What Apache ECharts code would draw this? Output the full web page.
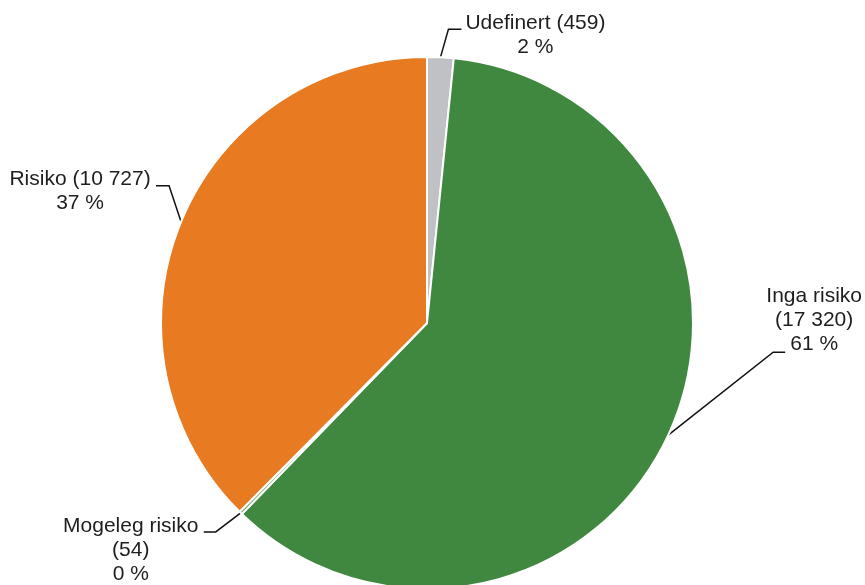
<!DOCTYPE html>
<html>
<head>
<meta charset="utf-8">
<script src="https://cdn.jsdelivr.net/npm/echarts@6/dist/echarts.min.js"></script>
<style>html,body{margin:0;padding:0;background:#fff}#c{width:865px;height:585px}</style>
</head>
<body>
<div id="c"></div>
<script>
// ---- data ----
const categories = ['Udefinert', 'Inga risiko', 'Mogeleg risiko', 'Risiko'];
const counts = [459, 17320, 54, 10727];
const percentLabels = [2, 61, 0, 37];
const valueOnOwnLine = [false, true, true, false];

// ---- style ----
const colors = ['#C0C1C4', '#408840', '#5C9C4C', '#E87A22'];
// label geometry relative to the slice edge anchor: [elbow, end of line, label centre]
const labelGeom = [
  [[8, -28], [21, -28], [95, -22]],
  [[105, -83], [117, -83], [146, -114.5]],
  [[-25, 19], [-37, 19], [-110, 37]],
  [[-12, -36], [-25, -36], [-101, -30.5]]
];

function fmtNum(n) {
  return String(n).replace(/\B(?=(\d{3})+(?!\d))/g, ' ');
}

const chart = echarts.init(document.getElementById('c'), null, {renderer: 'canvas'});
chart.setOption({
  animation: false,
  backgroundColor: '#fff',
  series: [{
    type: 'pie',
    center: [427, 323],
    radius: 266,
    startAngle: 90,
    clockwise: true,
    avoidLabelOverlap: false,
    data: categories.map((c, i) => ({
      name: c,
      value: counts[i],
      itemStyle: {color: colors[i]}
    })),
    itemStyle: {borderColor: '#fff', borderWidth: 2},
    label: {
      show: true,
      position: 'outside',
      color: '#1e1e1e',
      fontFamily: 'Liberation Sans, Arial, sans-serif',
      fontSize: 21,
      lineHeight: 24,
      align: 'center',
      formatter: p => {
        const i = p.dataIndex;
        const sep = valueOnOwnLine[i] ? '\n' : ' ';
        return categories[i] + sep + '(' + fmtNum(counts[i]) + ')\n' + percentLabels[i] + ' %';
      }
    },
    labelLine: {
      show: true,
      length: 20,
      length2: 10,
      lineStyle: {color: '#111', width: 1.5}
    },
    labelLayout: function (params) {
      const i = params.dataIndex;
      const a = params.labelLinePoints ? params.labelLinePoints[0] : [0, 0];
      const g = labelGeom[i];
      return {
        x: a[0] + g[2][0],
        y: a[1] + g[2][1],
        align: 'center',
        verticalAlign: 'middle',
        labelLinePoints: [
          [a[0], a[1]],
          [a[0] + g[0][0], a[1] + g[0][1]],
          [a[0] + g[1][0], a[1] + g[1][1]]
        ]
      };
    }
  }]
});
</script>
</body>
</html>
